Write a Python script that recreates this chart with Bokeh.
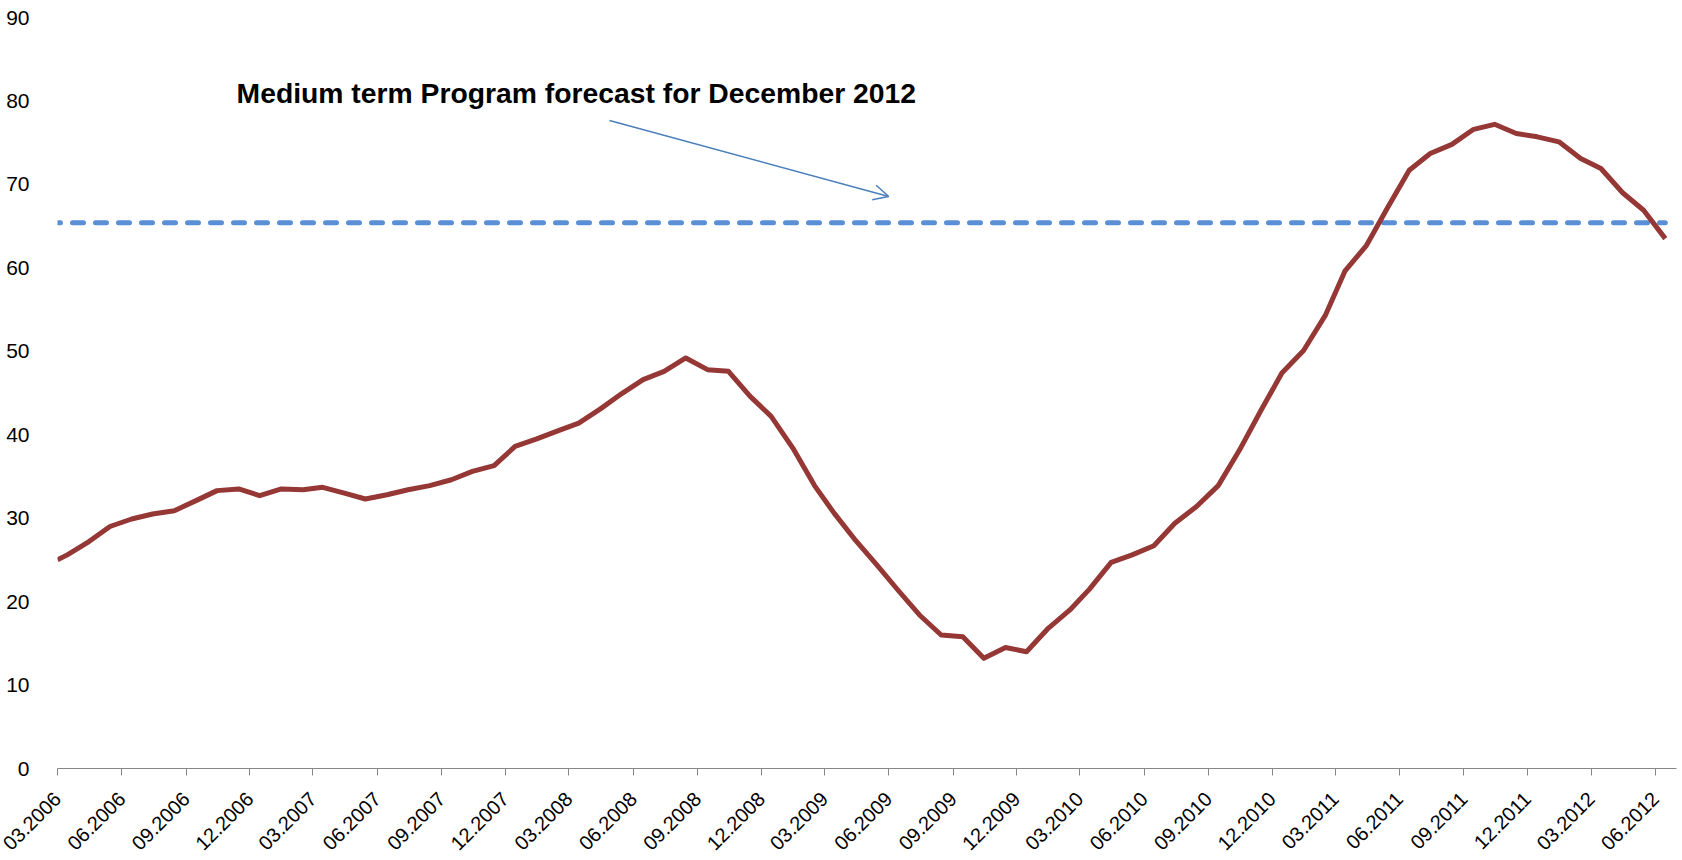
import pandas as pd
from bokeh.plotting import figure
from bokeh.models import (Range1d, FixedTicker, DatetimeTickFormatter, Label,
                          Arrow, OpenHead, ColumnDataSource)
from bokeh.embed import file_html
from bokeh.resources import INLINE

# ---------------- data ----------------
first_date = "2006-03-01"
month_starts = pd.date_range("2006-03-01", "2012-06-01", freq="MS")  # 03.2006 .. 06.2012
values = [25.0,
          25.6, 27.2, 29.0, 29.9, 30.5, 30.9, 32.1, 33.3, 33.5, 32.7,
          33.5, 33.4, 33.7, 33.0, 32.3, 32.8, 33.4, 33.9, 34.6, 35.6,
          36.3, 38.6, 39.5, 40.5, 41.4, 43.1, 44.9, 46.6, 47.6, 49.2,
          47.8, 47.6, 44.6, 42.2, 38.4, 33.9, 30.6, 27.3, 24.4, 21.3,
          18.4, 16.0, 15.8, 13.2, 14.5, 14.0, 16.8, 19.0, 21.5, 24.7,
          25.6, 26.7, 29.4, 31.4, 33.9, 38.1, 42.9, 47.4, 50.1, 54.3,
          59.6, 62.7, 67.2, 71.7, 73.7, 74.8, 76.6, 77.2, 76.1, 75.7,
          75.1, 73.1, 71.9, 69.0, 66.9, 63.5]
forecast_value = 65.4
forecast_text = "Medium term Program forecast for December 2012"
y_ticks = [0, 10, 20, 30, 40, 50, 60, 70, 80, 90]
x_tick_dates = pd.date_range("2006-03-01", "2012-06-01", freq="3MS")
x_axis_end = "2012-07-01"

# point dates: first observation, then mid-month observations
dates = [pd.Timestamp(first_date)] + [d + pd.Timedelta(days=14) for d in month_starts]


def ms(d):
    return pd.Timestamp(d).value / 1e6


src = ColumnDataSource(dict(x=[ms(d) for d in dates], y=values))

p = figure(width=1682, height=860, output_backend="svg", toolbar_location=None,
           x_axis_type="datetime",
           x_range=Range1d(ms(first_date), ms(x_axis_end)),
           y_range=Range1d(0, 90),
           min_border_left=57, min_border_right=6, min_border_top=17, min_border_bottom=92)
p.outline_line_color = None
p.grid.visible = False
p.background_fill_color = "white"
p.border_fill_color = "white"

FONT = "Liberation Sans"

# forecast dashed line
p.line(x=[ms(dates[0]), ms(dates[-1])], y=[forecast_value, forecast_value],
       line_color="#5A8FD6", line_width=5, line_dash="11 12", line_dash_offset=8,
       line_cap="round")

# main series
p.line("x", "y", source=src, line_color="#953735", line_width=5, line_join="round")

# annotation
p.add_layout(Label(x=ms("2006-11-12"), y=81.0, text=forecast_text,
                   text_font=FONT, text_font_size="28.3px", text_font_style="bold",
                   text_color="#000000", text_align="left", text_baseline="middle"))
p.add_layout(Arrow(end=OpenHead(size=15, line_color="#4A7EBB", line_width=1.5),
                   x_start=ms("2008-04-28"), y_start=77.66,
                   x_end=ms("2009-06-01"), y_end=68.55,
                   line_color="#4A7EBB", line_width=1.5))

# x axis
xa = p.xaxis[0]
xa.ticker = FixedTicker(ticks=[ms(d) for d in x_tick_dates])
fmt = "%m.%Y"
xa.formatter = DatetimeTickFormatter(microseconds=fmt, milliseconds=fmt, seconds=fmt,
                                     minsec=fmt, minutes=fmt, hourmin=fmt, hours=fmt,
                                     days=fmt, months=fmt, years=fmt,
                                     strip_leading_zeros=False)
xa.axis_line_color = "#868686"
xa.axis_line_width = 1
xa.major_tick_line_color = "#868686"
xa.major_tick_in = 0
xa.major_tick_out = 7
xa.minor_tick_line_color = None
xa.major_label_orientation = 0.785398
xa.major_label_text_font = FONT
xa.major_label_text_font_size = "20px"
xa.major_label_text_color = "#000000"
xa.major_label_standoff = 20

# y axis
ya = p.yaxis[0]
ya.ticker = FixedTicker(ticks=y_ticks)
ya.axis_line_color = None
ya.major_tick_line_color = None
ya.minor_tick_line_color = None
ya.major_label_text_font = FONT
ya.major_label_text_font_size = "21px"
ya.major_label_text_color = "#000000"
ya.major_label_standoff = 22

open("out.html", "w").write(file_html(p, INLINE))
